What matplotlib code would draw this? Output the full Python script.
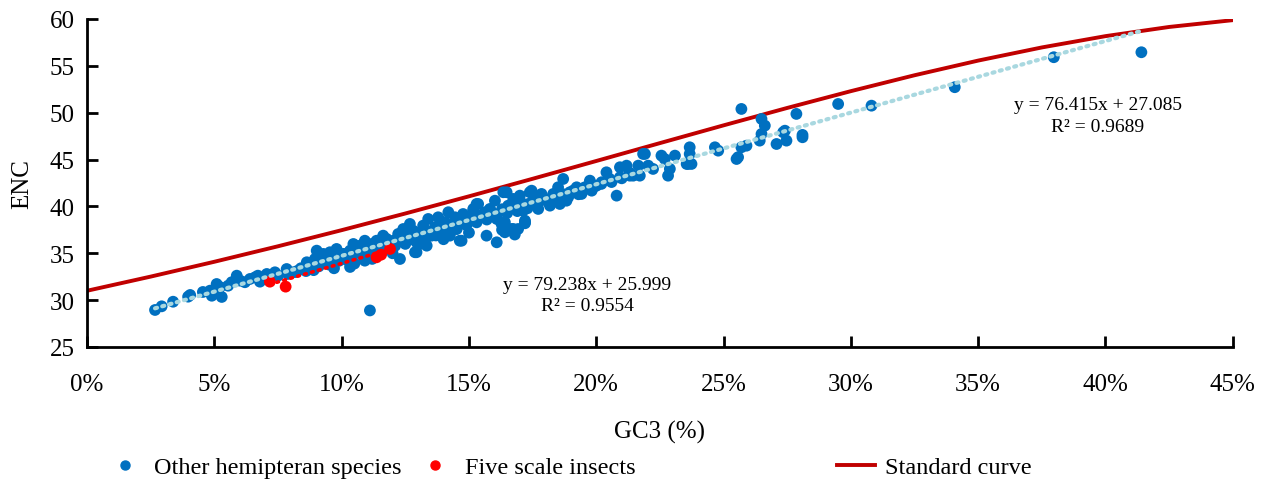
import numpy as np
import matplotlib
matplotlib.use("Agg")
import matplotlib.pyplot as plt
from matplotlib.ticker import FuncFormatter
from matplotlib.lines import Line2D

plt.rcParams['font.family'] = ['Liberation Serif', 'DejaVu Serif']

# GC3 (%) and ENC of the other hemipteran species
other_gc3 = [2.67, 2.93, 3.38, 3.97, 4.05, 4.55, 4.83, 4.90, 5.09, 5.14, 5.29, 5.22,
             5.54, 5.68, 5.88, 6.01, 6.20, 6.40, 6.60, 6.71, 6.79, 7.06, 7.25, 7.38,
             7.50, 7.84, 7.89, 8.09, 8.28, 8.48, 8.63, 8.76, 8.95, 9.07,
             9.02, 9.28, 9.54, 9.80, 10.06, 10.33, 10.46, 10.72, 10.91, 10.98, 11.18,
             11.37, 11.63, 11.77, 12.03, 12.22, 12.29, 12.42, 12.55, 12.68, 12.81,
             12.94, 13.07, 13.20, 13.34, 13.40, 13.53, 13.66, 13.79, 13.93, 14.06,
             14.19, 14.25, 14.45, 14.52, 14.64, 14.77, 14.97, 15.17, 15.30, 15.43,
             15.63, 15.69,
             10.33, 10.91, 12.88, 14.71, 16.09, 16.41, 16.41, 16.74, 16.93, 17.20,
             16.48, 17.00, 17.39, 17.52, 11.11,
             15.17, 15.30, 15.36, 15.56, 15.82, 16.02, 16.09, 16.28, 16.35, 16.54,
             16.67, 16.74, 17.13, 17.20, 17.33, 17.46, 17.59, 17.72, 17.85, 17.98,
             18.18, 18.31, 18.50, 18.57, 18.70, 18.83, 18.96, 19.23, 19.42, 19.55,
             19.75, 19.82, 20.01, 20.21, 20.40, 20.53, 20.80, 20.93, 21.19, 21.45,
             21.65,
             21.84, 22.56, 23.09, 22.82, 23.67, 23.61, 23.67,
             20.93, 21.32, 21.71, 21.91, 22.04, 22.23, 22.69, 22.89, 23.55, 23.74,
             24.66, 24.79,
             25.70, 25.51, 25.57, 25.70, 25.90, 26.42, 26.49, 26.49, 26.62, 27.08,
             27.34, 27.41, 27.47, 27.86, 28.10, 28.10, 29.50, 30.81, 34.08, 37.97,
             41.41,
             8.2, 8.4, 8.6, 8.8, 9.1, 9.3, 9.5, 9.6, 9.9, 10.1, 10.2, 10.4, 10.6,
             10.8, 11.0, 11.3, 11.5, 11.7, 11.9, 12.1, 12.3, 12.5, 12.7, 12.9, 13.1,
             13.3, 13.5, 13.7, 13.9, 14.1, 14.3, 14.5, 14.7, 14.9, 15.1, 15.3, 15.5,
             15.7, 15.9, 16.1, 16.3, 16.5, 16.7, 16.9, 17.1, 17.3, 17.5, 17.7, 17.9,
             18.1, 18.3, 18.5, 18.7, 18.9, 19.1, 19.3, 19.6, 19.9, 20.2, 20.6, 21.0,
             21.3,
             13.0, 14.0, 15.0, 16.3, 16.8, 17.2, 12.0, 11.2, 9.7, 8.9, 10.5]
other_enc = [28.95, 29.34, 29.83, 30.37, 30.55, 30.87, 31.01, 30.47, 31.72, 30.87, 30.34, 31.40,
             31.54, 31.91, 32.61, 32.08, 31.91, 32.26, 32.44, 32.61, 31.97, 32.79, 32.61, 32.97,
             32.61, 33.32, 32.79, 32.97, 33.14, 33.32, 34.04, 33.68, 34.39, 34.93,
             35.28, 34.93, 35.11, 35.46, 34.93, 35.28, 35.99, 35.81, 36.34, 35.46, 35.99,
             36.34, 36.88, 36.53, 36.34, 37.06, 34.39, 37.59, 36.88, 38.13, 37.41,
             35.11, 37.24, 37.95, 35.81, 38.66, 36.88, 37.77, 38.84, 37.41, 38.31,
             39.38, 36.88, 38.84, 37.59, 36.34, 39.19, 38.31, 39.73, 40.26, 39.01,
             39.38, 36.88,
             33.54, 34.21, 35.11, 36.34, 36.17, 38.31, 37.24, 37.59, 37.59, 38.31,
             41.51, 41.15, 41.51, 40.44, 28.90,
             39.55, 38.66, 40.26, 39.19, 39.73, 40.61, 38.66, 38.13, 41.51, 40.08,
             37.59, 40.80, 39.55, 38.48, 40.26, 41.68, 40.98, 39.73, 41.33, 40.80,
             40.08, 41.33, 42.04, 40.26, 42.93, 40.61, 41.51, 42.04, 41.33, 42.04,
             42.75, 41.68, 42.21, 42.58, 43.64, 42.93, 41.15, 43.11, 44.35, 43.28,
             44.35,
             45.60, 45.42, 45.42, 43.28, 46.31, 44.53, 45.60,
             44.18, 43.28, 43.28, 45.60, 44.35, 44.00, 45.06, 44.00, 44.53, 44.53,
             46.31, 45.95,
             50.40, 45.06, 45.25, 46.31, 46.48, 47.02, 47.73, 49.33, 48.62, 46.66,
             47.91, 48.08, 47.02, 49.87, 47.63, 47.38, 50.93, 50.75, 52.72, 55.92,
             56.45,
             33.0, 33.4, 33.1, 33.9, 33.6, 34.2, 33.8, 34.5, 34.2, 34.9, 34.3, 34.7, 35.2,
             34.8, 35.6, 35.1, 35.8, 35.4, 36.1, 35.8, 36.4, 36.0, 36.7, 36.3, 37.0,
             36.6, 37.3, 36.9, 37.7, 37.3, 38.0, 37.6, 38.4, 38.0, 38.8, 38.3, 39.0,
             38.6, 39.4, 39.0, 39.7, 39.3, 40.0, 39.5, 40.3, 39.8, 40.5, 40.2, 40.9,
             40.5, 41.1, 40.7, 41.3, 41.0, 41.7, 41.3, 41.9, 42.1, 42.4, 42.6, 43.0,
             43.6,
             35.9, 36.5, 37.2, 37.5, 37.0, 38.2, 35.0, 34.4, 33.4, 33.2, 33.9]

# five scale insects
scale_gc3 = [7.18, 7.80, 11.37, 11.55, 11.90]
scale_enc = [31.97, 31.44, 34.57, 34.85, 35.46]

# standard curve values (GC3 fraction -> expected ENC)
std_gc3 = [0.0, 0.025, 0.05, 0.075, 0.10, 0.125, 0.15, 0.175, 0.20, 0.225,
           0.25, 0.275, 0.30, 0.325, 0.35, 0.375, 0.40, 0.425, 0.45]
std_enc = [31.00, 32.511, 34.094, 35.747, 37.466, 39.245, 41.076, 42.948, 44.847,
           46.755, 48.65, 50.508, 52.30, 53.995, 55.561, 56.963, 58.169, 59.149, 59.876]

# trend lines as printed on the chart
other_slope, other_icpt, other_r2 = 76.415, 27.085, 0.9689
scale_slope, scale_icpt, scale_r2 = 79.238, 25.999, 0.9554

ox = np.array(other_gc3) / 100
sx = np.array(scale_gc3) / 100

fig = plt.figure(figsize=(12.67, 4.85), dpi=100)
ax = fig.add_axes([0.0687, 0.2825, 0.9043, 0.6763])

blue = '#0070C0'
red = '#FF0000'

ax.plot(std_gc3, std_enc, color='#C00000', lw=2.8, zorder=2)
ax.scatter(ox, other_enc, s=72, color=blue, edgecolors='none', zorder=3)
ax.scatter(sx, scale_enc, s=72, color=red, edgecolors='none', zorder=4)

tx = np.array([ox.min(), ox.max()])
ax.plot(tx, other_slope * tx + other_icpt, color='#A9D8E0', lw=3,
        linestyle=(0, (0.5, 1.3)), dash_capstyle='round', zorder=5)
rx = np.array([sx.min(), sx.max()])
ax.plot(rx, scale_slope * rx + scale_icpt, color=red, lw=2.6,
        linestyle=(0, (0.5, 1.5)), dash_capstyle='round', zorder=5)

ax.text(0.1965, 31.72, 'y = %.3fx + %.3f' % (scale_slope, scale_icpt),
        ha='center', va='center', fontsize=14)
ax.text(0.1965, 29.45, 'R² = %.4f' % scale_r2, ha='center', va='center', fontsize=14)
ax.text(0.397, 50.83, 'y = %.3fx + %.3f' % (other_slope, other_icpt),
        ha='center', va='center', fontsize=14)
ax.text(0.397, 48.50, 'R² = %.4f' % other_r2, ha='center', va='center', fontsize=14)

ax.set_xlim(0, 0.45)
ax.set_ylim(25, 60)
ax.set_xticks(np.arange(0, 0.4501, 0.05))
ax.set_yticks(np.arange(25, 61, 5))
ax.xaxis.set_major_formatter(FuncFormatter(lambda v, p: '%d%%' % round(v * 100)))
ax.tick_params(axis='both', direction='in', length=8, width=2, labelsize=18, pad=9)
ax.tick_params(axis='x', pad=19)
for side in ['top', 'right']:
    ax.spines[side].set_visible(False)
for side in ['left', 'bottom']:
    ax.spines[side].set_linewidth(2)
ax.set_xlabel('GC3 (%)', fontsize=18, labelpad=18)
ax.set_ylabel('ENC', fontsize=18, labelpad=12)

h1 = Line2D([], [], marker='o', color=blue, linestyle='none', markersize=6.5)
h2 = Line2D([], [], marker='o', color=red, linestyle='none', markersize=6.5)
h3 = Line2D([], [], color='#C00000', lw=2.8)
for h, lab, xpos in [(h1, 'Other hemipteran species', 0.066),
                     (h2, 'Five scale insects', 0.311),
                     (h3, 'Standard curve', 0.643)]:
    fig.legend([h], [lab], loc='center left', bbox_to_anchor=(xpos, 0.035),
               frameon=False, fontsize=17.5, handlelength=1.6, handletextpad=0.4)

fig.savefig('out.png', dpi=100)
